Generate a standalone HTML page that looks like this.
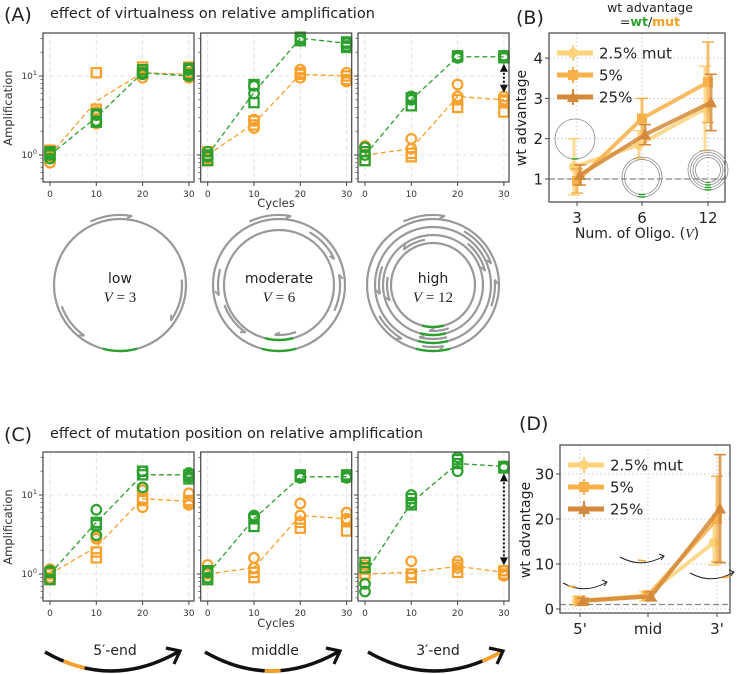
<!DOCTYPE html>
<html><head><meta charset="utf-8"><style>
html,body{margin:0;padding:0;background:#fff}
svg{display:block;font-family:"DejaVu Sans","Liberation Sans",sans-serif}
</style></head><body>
<svg id="fig" width="737" height="674" viewBox="0 0 737 674" xmlns="http://www.w3.org/2000/svg">
<text x="4" y="21" font-size="19" fill="#222">(A)</text>
<text x="50" y="18" font-size="14.5" fill="#222">effect of virtualness on relative amplification</text>
<text x="4" y="441" font-size="19" fill="#222">(C)</text>
<text x="50" y="438" font-size="14.5" fill="#222">effect of mutation position on relative amplification</text>
<text x="516" y="24" font-size="19" fill="#222">(B)</text>
<text x="519" y="430" font-size="19" fill="#222">(D)</text>
<text x="650" y="12" font-size="12.5" fill="#222" text-anchor="middle">wt advantage</text>
<text x="650" y="26" font-size="12.5" text-anchor="middle"><tspan fill="#222">=</tspan><tspan fill="#2ca02c" font-weight="bold">wt</tspan><tspan fill="#222">/</tspan><tspan fill="#f5a020" font-weight="bold">mut</tspan></text>
</svg>
<script>
const NS='http://www.w3.org/2000/svg';
const svg=document.getElementById('fig');
function mk(tag,attrs,name,parent){
  const e=document.createElementNS(NS,tag);
  for(const k in attrs) e.setAttribute(k,attrs[k]);
  
  
  (parent||svg).appendChild(e);return e;
}
const GREEN='#2ca02c', ORANGE='#f9a02a';

// ---------- data: amplification panels ----------
const cycles=[0,10,20,30];
const A1_greenMean=[1,3,11,10], A1_orangeMean=[1,4.8,11,10.5];
const A1_greenCirc=[[1.05,0.9],[2.7,3.2],[10.5,11],[10,12]];
const A1_greenSq=[[1,1.1],[2.6,3.3],[11,12],[10.5,12.5]];
const A1_orangeCirc=[[0.8,1.15],[2.5,3.5],[9.5,12],[9.5,11]];
const A1_orangeSq=[[1.15,0.95],[11,3.8],[13,11.5],[13,11]];
const A2_greenMean=[1,6.2,30,26], A2_orangeMean=[1,2.5,10.5,10];
const A2_greenCirc=[[1.1,0.95],[6,7.5],[30,28],[26,24]];
const A2_greenSq=[[0.85,1],[4.6,7.8],[31,28],[27,23]];
const A2_orangeCirc=[[1,0.9],[2.2,2.8],[9.5,12],[8.5,11]];
const A2_orangeSq=[[0.85,1.1],[2.4,2.7],[10.5,11],[10,9]];
const A3_greenMean=[1,5,17.5,17.5], A3_orangeMean=[1,1.2,5.5,5];
const A3_greenCirc=[[1.25,1],[5,5.5],[17,18],[17,18]];
const A3_greenSq=[[0.85,1.1],[4.2,5.3],[17.5,18],[17,18]];
const A3_orangeCirc=[[1.3,1],[1.6,1.2],[7.8,5.5],[5.5,5]];
const A3_orangeSq=[[0.85,1.1],[0.95,1.05],[4,5],[3.5,4.8]];
const C1_greenMean=[1,4.5,18,18], C1_orangeMean=[1,2.2,9,8.3];
const C1_greenCirc=[[1.1,0.85],[6.5,3.1],[20,12.5],[19,17]];
const C1_greenSq=[[0.85,1.05],[4.5,4.2],[18,20],[18,16]];
const C1_orangeCirc=[[1.15,0.9],[2.8,3],[11.5,7],[10.5,7.5]];
const C1_orangeSq=[[0.85,1],[1.6,1.9],[8.5,9],[8,8.5]];
const C2_greenMean=[1,5,17,17], C2_orangeMean=[1,1.2,5.5,5];
const C2_greenCirc=[[1.05,0.9],[5.2,5.5],[17,16.5],[16.5,17]];
const C2_greenSq=[[0.85,1.1],[4,5],[17,18],[17,18]];
const C2_orangeCirc=[[1.3,1],[1.6,1.2],[7.8,5.5],[6,5]];
const C2_orangeSq=[[0.85,1.1],[0.9,1.05],[3.8,4.5],[3.5,4.8]];
const C3_greenMean=[1,8,25,23], C3_orangeMean=[1,1.05,1.25,1.05];
const C3_greenCirc=[[0.6,0.75],[10,8],[30,20],[23,22]];
const C3_greenSq=[[1.4,1.2],[7.5,9],[25,28],[23,22]];
const C3_orangeCirc=[[1.3,0.75],[1.45,1],[1.45,1.2],[1.1,0.95]];
const C3_orangeSq=[[1,1.15],[0.9,1.0],[1.05,1.3],[1.0,1.1]];

// ---------- data: wt advantage panels ----------
const bCats=['3','6','12'];
const bSeries=['2.5% mut','5%','25%'];
const b25=[1.3,1.85,2.75], b25err=[0.7,0.35,1.05];
const b5=[0.95,2.5,3.4], b5err=[0.3,0.5,1.0];
const b250=[1.1,2.1,2.9], b250err=[0.25,0.25,0.7];
const bTicks=[1,2,3,4];
const dCats=["5'","mid","3'"];
const d25=[1.8,2.8,14.8], d25err=[1,1,5];
const d5=[1.8,3.0,20], d5err=[1,1,9.5];
const d250=[1.8,2.8,22.3], d250err=[0.6,1,12];
const dTicks=[0,10,20,30];
const SCOL=['#fcd27a','#f8b04a','#d4893a'];

// ---------- amplification subplot ----------
function ampPlot(name,x0,y0,top,gm,om,gc,gs,oc,os,showY,arrow){
  const g=mk('g',{},name);
  const left=x0-7, w=151, bot=top+149;
  const X=c=>x0+c*4.63;
  const Y=v=>y0-79*Math.log10(v);
  cycles.forEach(c=>mk('line',{x1:X(c),x2:X(c),y1:top,y2:bot,stroke:'#ddd','stroke-dasharray':'4,3','stroke-width':0.8},'x-grid-line',g));
  [1,10].forEach(v=>mk('line',{x1:left,x2:left+w,y1:Y(v),y2:Y(v),stroke:'#ddd','stroke-dasharray':'4,3','stroke-width':0.8},'y-grid-line',g));
  const pts=(m)=>m.map((v,i)=>X(cycles[i])+','+Y(v)).join(' ');
  mk('polyline',{points:pts(om),fill:'none',stroke:ORANGE,'stroke-width':1.3,'stroke-dasharray':'5,3'},'mut-mean-line',g);
  mk('polyline',{points:pts(gm),fill:'none',stroke:GREEN,'stroke-width':1.3,'stroke-dasharray':'5,3'},'wt-mean-line',g);
  const circ=(arr,col,nm)=>arr.forEach((vs,i)=>vs.forEach(v=>mk('circle',{cx:X(cycles[i]),cy:Y(v),r:4.8,fill:'none',stroke:col,'stroke-width':2.2},nm,g)));
  const sq=(arr,col,nm)=>arr.forEach((vs,i)=>vs.forEach(v=>mk('rect',{x:X(cycles[i])-4.6,y:Y(v)-4.6,width:9.2,height:9.2,fill:'none',stroke:col,'stroke-width':2.2},nm,g)));
  sq(os,ORANGE,'mut-square-marker');circ(oc,ORANGE,'mut-circle-marker');
  sq(gs,GREEN,'wt-square-marker');circ(gc,GREEN,'wt-circle-marker');
  if(arrow){
    const ax=X(30), ya=Y(gm[3])+7, yb=Y(om[3])-7;
    mk('line',{x1:ax,x2:ax,y1:ya+5,y2:yb-5,stroke:'#111','stroke-width':2,'stroke-dasharray':'2,2'},'difference-arrow',g);
    mk('polygon',{points:`${ax},${ya} ${ax-4},${ya+8} ${ax+4},${ya+8}`,fill:'#111'},'arrow-head-up',g);
    mk('polygon',{points:`${ax},${yb} ${ax-4},${yb-8} ${ax+4},${yb-8}`,fill:'#111'},'arrow-head-down',g);
  }
  mk('rect',{x:left,y:top,width:w,height:149,fill:'none',stroke:'#444','stroke-width':1.2},'axes-frame',g);
  cycles.forEach(c=>{
    mk('line',{x1:X(c),x2:X(c),y1:bot,y2:bot+4,stroke:'#444'},'x-tick',g);
    const t=mk('text',{x:X(c),y:bot+15,'font-size':9,'text-anchor':'middle',fill:'#333'},'x-tick-label',g);t.textContent=c;
  });
  const minors=[0.5,0.6,0.7,0.8,0.9,2,3,4,5,6,7,8,9,20,30];
  minors.forEach(v=>{const yy=Y(v);if(yy>top&&yy<bot)mk('line',{x1:left-2.5,x2:left,y1:yy,y2:yy,stroke:'#444','stroke-width':0.7},'y-minor-tick',g);});
  [1,10].forEach((v,i)=>{
    mk('line',{x1:left-4,x2:left,y1:Y(v),y2:Y(v),stroke:'#444'},'y-tick',g);
    if(showY){const t=mk('text',{x:left-6,y:Y(v)+3,'font-size':9,'text-anchor':'end',fill:'#333'},'y-tick-label',g);
      t.innerHTML='10<tspan font-size="6.5" dy="-4">'+i+'</tspan>';}
  });
}
ampPlot('amp-plot-low',50,155,33,A1_greenMean,A1_orangeMean,A1_greenCirc,A1_greenSq,A1_orangeCirc,A1_orangeSq,true,false);
ampPlot('amp-plot-moderate',207.7,155,33,A2_greenMean,A2_orangeMean,A2_greenCirc,A2_greenSq,A2_orangeCirc,A2_orangeSq,false,false);
ampPlot('amp-plot-high',365,155,33,A3_greenMean,A3_orangeMean,A3_greenCirc,A3_greenSq,A3_orangeCirc,A3_orangeSq,false,true);
ampPlot('amp-plot-5end',50,574,452,C1_greenMean,C1_orangeMean,C1_greenCirc,C1_greenSq,C1_orangeCirc,C1_orangeSq,true,false);
ampPlot('amp-plot-middle',207.7,574,452,C2_greenMean,C2_orangeMean,C2_greenCirc,C2_greenSq,C2_orangeCirc,C2_orangeSq,false,false);
ampPlot('amp-plot-3end',365,574,452,C3_greenMean,C3_orangeMean,C3_greenCirc,C3_greenSq,C3_orangeCirc,C3_orangeSq,false,true);
[[207,'a'],[627,'c']].forEach(([y,p])=>{const t=mk('text',{x:276,y:y,'font-size':11.5,'text-anchor':'middle',fill:'#333'},'x-axis-title-'+p);t.textContent='Cycles';});
[[108,'a'],[527,'c']].forEach(([y,p])=>{const t=mk('text',{x:0,y:0,'font-size':11.5,'text-anchor':'middle',fill:'#333',transform:`translate(12,${y}) rotate(-90)`},'y-axis-title-'+p);t.textContent='Amplification';});

// ---------- circle diagrams ----------
function arcPath(cx,cy,r,a1,a2){
  const p=a=>[cx+r*Math.cos(a*Math.PI/180),cy+r*Math.sin(a*Math.PI/180)];
  const [x1,y1]=p(a1),[x2,y2]=p(a2);const large=Math.abs(a2-a1)>180?1:0;const sw=a2>a1?1:0;
  return `M${x1},${y1} A${r},${r} 0 ${large} ${sw} ${x2},${y2}`;
}
function arrowArc(g,cx,cy,r,a1,a2,col){
  mk('path',{d:arcPath(cx,cy,r,a1,a2),fill:'none',stroke:col,'stroke-width':2.2},'oligo-arc',g);
  const a=a2*Math.PI/180, x=cx+r*Math.cos(a), y=cy+r*Math.sin(a);
  const dir=a2>a1?1:-1; const tx=-Math.sin(a)*dir, ty=Math.cos(a)*dir;
  mk('polyline',{points:`${x-tx*5+ty*-3},${y-ty*5-tx*-3} ${x},${y}`,fill:'none',stroke:col,'stroke-width':1.8},'oligo-arrowhead',g);
}
function diagram(name,cx,radii,arcs,label,v){
  const g=mk('g',{},name);const cy=285;
  radii.forEach(r=>{mk('circle',{cx:cx,cy:cy,r:r,fill:'none',stroke:'#999','stroke-width':2.2},'template-circle',g);
    mk('path',{d:arcPath(cx,cy,r,75,105),fill:'none',stroke:GREEN,'stroke-width':2.4},'mutation-site',g);});
  arcs.forEach(a=>arrowArc(g,cx,cy,a[0],a[1],a[2],'#999'));
  const t1=mk('text',{x:cx,y:cy-2,'font-size':14,'text-anchor':'middle',fill:'#222'},'regime-label',g);t1.textContent=label;
  const t2=mk('text',{x:cx,y:cy+17,'font-size':15,'text-anchor':'middle',fill:'#222','font-family':'Liberation Serif,serif'},'v-label',g);
  t2.innerHTML='<tspan font-style="italic">V</tspan> = '+v;
}
diagram('diagram-low',120,[66],[[70,-115,-80],[62,-5,35],[62,160,125]],'low',3);
diagram('diagram-moderate',279,[66,55],[[70,-115,-80],[61,-60,-25],[61,25,-10],[58,160,125],[61,195,170],[50,70,95]],'moderate',6);
diagram('diagram-high',433,[66,58,50,42],[[70,-115,-80],[62,-60,-20],[54,-50,-15],[46,-100,-130],[62,20,-5],[54,200,170],[46,190,160],[62,150,120],[54,75,105],[46,70,95],[62,100,80]],'high',12);

// ---------- position arcs (C) ----------
function posArc(name,x0,label,f1,f2){
  const g=mk('g',{},name);
  const x1=x0+133, d=`M${x0},652 Q${x0+66},690 ${x1},652`;
  mk('path',{d:d,fill:'none',stroke:'#111','stroke-width':3.5},'template-strand',g);
  const pt=t=>{const mx=x0+66;return [(1-t)*(1-t)*x0+2*(1-t)*t*mx+t*t*x1,(1-t)*(1-t)*652+2*(1-t)*t*690+t*t*652];};
  let p='';for(let t=f1;t<=f2+1e-6;t+=0.02){const q=pt(t);p+=(p?' L':'M')+q[0]+','+q[1];}
  mk('path',{d:p,fill:'none',stroke:ORANGE,'stroke-width':3.7},'mutation-segment',g);
  mk('polyline',{points:`${x1-12},${648} ${x1+2},${651} ${x1-4},${664}`,fill:'none',stroke:'#111','stroke-width':3.2},'strand-arrowhead',g);
  const t=mk('text',{x:x0+70,y:655,'font-size':14,'text-anchor':'middle',fill:'#222'},'position-label',g);t.textContent=label;
}
posArc('arc-5end',45,'5\u2032-end',0.14,0.3);
posArc('arc-middle',205,'middle',0.45,0.58);
posArc('arc-3end',368,'3\u2032-end',0.86,1.0);

// ---------- wt advantage panels ----------
function advPlot(name,L,T,W,H,xs,yFn,cats,ticks,series,errs,dashY){
  const g=mk('g',{},name);
  ticks.forEach(v=>mk('line',{x1:L,x2:L+W,y1:yFn(v),y2:yFn(v),stroke:'#ccc','stroke-dasharray':'2,2','stroke-width':0.8},'y-grid-line',g));
  xs.forEach(x=>mk('line',{x1:x,x2:x,y1:T,y2:T+H,stroke:'#ccc','stroke-dasharray':'2,2','stroke-width':0.8},'x-grid-line',g));
  mk('line',{x1:L,x2:L+W,y1:yFn(dashY),y2:yFn(dashY),stroke:'#888','stroke-dasharray':'6,3','stroke-width':1.2},'baseline-one',g);
  const offs=[-3,0,3];
  series.forEach((s,si)=>{
    const col=SCOL[si];
    const pts=s.map((v,i)=>(xs[i]+offs[si])+','+yFn(v)).join(' ');
    mk('polyline',{points:pts,fill:'none',stroke:col,'stroke-width':4,'stroke-opacity':0.85},'series-line-'+si,g);
    s.forEach((v,i)=>{
      const x=xs[i]+offs[si], e=errs[si][i];
      mk('line',{x1:x,x2:x,y1:yFn(v-e),y2:yFn(v+e),stroke:col,'stroke-width':3,'stroke-opacity':0.8},'error-bar',g);
      [v-e,v+e].forEach(q=>mk('line',{x1:x-6,x2:x+6,y1:yFn(q),y2:yFn(q),stroke:col,'stroke-width':1.5},'error-cap',g));
      if(si===0)mk('circle',{cx:x,cy:yFn(v),r:5,fill:col},'marker-circle',g);
      else if(si===1)mk('rect',{x:x-5,y:yFn(v)-5,width:10,height:10,fill:col},'marker-square',g);
      else mk('polygon',{points:`${x},${yFn(v)-6} ${x-6},${yFn(v)+5} ${x+6},${yFn(v)+5}`,fill:col},'marker-triangle',g);
    });
  });
  mk('rect',{x:L,y:T,width:W,height:H,fill:'none',stroke:'#444','stroke-width':1.2},'axes-frame',g);
  ticks.forEach(v=>{mk('line',{x1:L-4,x2:L,y1:yFn(v),y2:yFn(v),stroke:'#444'},'y-tick',g);
    const t=mk('text',{x:L-6,y:yFn(v)+5.5,'font-size':15,'text-anchor':'end',fill:'#222'},'y-tick-label',g);t.textContent=v;});
  xs.forEach((x,i)=>{mk('line',{x1:x,x2:x,y1:T+H,y2:T+H+4,stroke:'#444'},'x-tick',g);
    const t=mk('text',{x:x,y:T+H+21,'font-size':15,'text-anchor':'middle',fill:'#222'},'x-tick-label',g);t.textContent=cats[i];});
  const ly=[T+20,T+42,T+64];
  ['2.5% mut','5%','25%'].forEach((lab,si)=>{
    const y=ly[si],col=SCOL[si],x=L+24;
    mk('line',{x1:L+8,x2:L+44,y1:y,y2:y,stroke:col,'stroke-width':5},'legend-line',g);
    mk('line',{x1:x,x2:x,y1:y-8,y2:y+8,stroke:col,'stroke-width':2},'legend-errbar',g);
    if(si===0)mk('circle',{cx:x,cy:y,r:5,fill:col},'legend-marker',g);
    else if(si===1)mk('rect',{x:x-5,y:y-5,width:10,height:10,fill:col},'legend-marker',g);
    else mk('polygon',{points:`${x},${y-6} ${x-6},${y+5} ${x+6},${y+5}`,fill:col},'legend-marker',g);
    const t=mk('text',{x:L+50,y:y+5.5,'font-size':15,fill:'#222'},'legend-entry',g);t.textContent=lab;
  });
  return g;
}
const bY=v=>179-40.3*(v-1);
const gb=advPlot('wt-advantage-virtualness',549,33,176,169,[577,642,708],bY,bCats,bTicks,[b25,b5,b250],[b25err,b5err,b250err],1);
[[575,139,20,1],[642,177,20,2],[708,170,20,4]].forEach(([cx,cy,r,n])=>{for(let k=0;k<n;k++){
  mk('circle',{cx:cx,cy:cy,r:r-k*2.5,fill:'none',stroke:'#888','stroke-width':0.8},'inset-circle',gb);
  mk('path',{d:arcPath(cx,cy,r-k*2.5,80,100),fill:'none',stroke:GREEN,'stroke-width':1.5},'inset-mutation',gb);}});
{const t=mk('text',{x:637,y:238,'font-size':14,'text-anchor':'middle',fill:'#222'},'b-x-axis-title');t.innerHTML='Num. of Oligo. (<tspan font-style="italic" font-family="Liberation Serif,serif">V</tspan>)';}
{const t=mk('text',{x:0,y:0,'font-size':14,'text-anchor':'middle',fill:'#222',transform:'translate(526,118) rotate(-90)'},'b-y-axis-title');t.textContent='wt advantage';}

const dY=v=>609-4.5*v;
const gd=advPlot('wt-advantage-position',560,445,170,168,[580,648,717],dY,dCats,dTicks,[d25,d5,d250],[d25err,d5err,d250err],1);
[[563,583,'s'],[620,557,'m'],[690,573,'e']].forEach(([x,y,p])=>{
  mk('path',{d:`M${x},${y} Q${x+22},${y+12} ${x+44},${y-1}`,fill:'none',stroke:'#222','stroke-width':1},'mini-strand',gd);
  mk('polyline',{points:`${x+39},${y-3} ${x+44},${y-1} ${x+41},${y+3}`,fill:'none',stroke:'#222','stroke-width':1},'mini-arrowhead',gd);
  const sx=p==='s'?x+5:p==='m'?x+18:x+32;
  mk('path',{d:`M${sx},${y+(p==='e'?5:3)} l8,${p==='e'?-2:1}`,fill:'none',stroke:ORANGE,'stroke-width':1.6},'mini-mutation',gd);});
{const t=mk('text',{x:0,y:0,'font-size':14,'text-anchor':'middle',fill:'#222',transform:'translate(530,530) rotate(-90)'},'d-y-axis-title');t.textContent='wt advantage';}
</script>
</body></html>
